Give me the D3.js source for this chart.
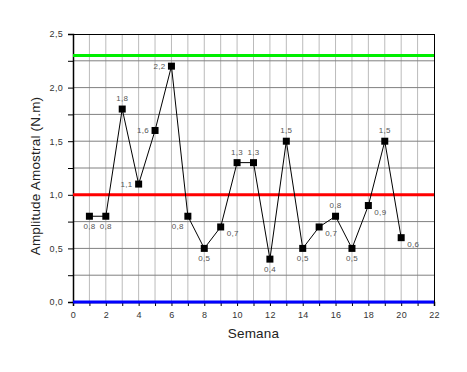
<!DOCTYPE html>
<html>
<head>
<meta charset="utf-8">
<script src="https://cdn.jsdelivr.net/npm/d3@7"></script>
<style>
  body { margin: 0; background: #fff; }
  svg { font-family: Arial, "Liberation Sans", sans-serif; }
  .tick text { fill: #333; font-size: 9px; letter-spacing: 0.3px; }
  .ptLabel { fill: #555; font-size: 8px; letter-spacing: 0.3px; }
  .axisTitle { fill: #222; font-size: 13.5px; letter-spacing: 0.2px; }
</style>
</head>
<body>
<div id="chart"></div>
<script>
// weeks and sample amplitude
const semanas = [1, 2, 3, 4, 5, 6, 7, 8, 9, 10, 11, 12, 13, 14, 15, 16, 17, 18, 19, 20];
const amplitude = [0.8, 0.8, 1.8, 1.1, 1.6, 2.2, 0.8, 0.5, 0.7, 1.3, 1.3, 0.4, 1.5, 0.5, 0.7, 0.8, 0.5, 0.9, 1.5, 0.6];
// where each value label sits relative to its point
const labelPos = ["below", "below", "above", "left", "left", "left", "belowleft", "below", "right", "above",
                  "above", "below", "above", "below", "right", "above", "below", "right", "above", "right"];
// control limits
const limites = [
  {valor: 2.3, cor: "#00ee00"},
  {valor: 1.0, cor: "#ff0000"},
  {valor: 0.0, cor: "#0000ff"}
];
const xTicks = [0, 2, 4, 6, 8, 10, 12, 14, 16, 18, 20, 22];
const yTicks = [0, 0.5, 1.0, 1.5, 2.0, 2.5];

const width = 467, height = 372;
const margin = {top: 34, right: 33, bottom: 70, left: 73};
const w = width - margin.left - margin.right;
const h = height - margin.top - margin.bottom;

const svg = d3.select("#chart").append("svg")
  .attr("width", width)
  .attr("height", height);

const g = svg.append("g").attr("transform", `translate(${margin.left},${margin.top})`);

const x = d3.scaleLinear().domain([0, 22]).range([0, w]);
const y = d3.scaleLinear().domain([0, 2.5]).range([h, 0]);

const fmt = d => d3.format(".1f")(d).replace(".", ",");

//grid
g.append("g").selectAll("line")
  .data(d3.range(1, 22))
  .join("line")
  .attr("x1", d => x(d)).attr("x2", d => x(d))
  .attr("y1", 0).attr("y2", h)
  .attr("stroke", "#bbb").attr("stroke-width", 1);

g.append("g").selectAll("line")
  .data(d3.range(0.25, 2.5, 0.25))
  .join("line")
  .attr("x1", 0).attr("x2", w)
  .attr("y1", d => y(d)).attr("y2", d => y(d))
  .attr("stroke", "#808080").attr("stroke-width", 1);

//frame (top/right)
g.append("line").attr("x1", 0).attr("x2", w).attr("y1", 0.5).attr("y2", 0.5).attr("stroke", "#000");
g.append("line").attr("x1", w + 0.5).attr("x2", w + 0.5).attr("y1", 0).attr("y2", h).attr("stroke", "#000");

//axes
g.append("g").attr("transform", `translate(0,${h})`)
  .call(d3.axisBottom(x).tickValues(xTicks).tickFormat(d3.format("d")).tickSize(4).tickPadding(6));
g.append("g").attr("transform", `translate(0,${h})`)
  .call(d3.axisBottom(x).tickValues(d3.range(1, 22, 2)).tickFormat("").tickSize(4))
  .select(".domain").remove();

g.append("g")
  .call(d3.axisLeft(y).tickValues(yTicks).tickFormat(fmt).tickSize(5).tickPadding(5));
g.append("g")
  .call(d3.axisLeft(y).tickValues(d3.range(0.25, 2.5, 0.5)).tickFormat("").tickSize(5))
  .select(".domain").remove();

g.selectAll(".domain").attr("stroke", "#000").attr("stroke-width", 1.5);

//limit lines
g.append("g").selectAll("line")
  .data(limites)
  .join("line")
  .attr("x1", 0).attr("x2", w)
  .attr("y1", d => y(d.valor)).attr("y2", d => y(d.valor))
  .attr("stroke", d => d.cor).attr("stroke-width", 3);

//series
const pts = semanas.map((s, i) => ({s: s, v: amplitude[i], pos: labelPos[i]}));

g.append("path")
  .datum(pts)
  .attr("fill", "none")
  .attr("stroke", "#000")
  .attr("stroke-width", 1)
  .attr("d", d3.line().x(d => x(d.s)).y(d => y(d.v)));

g.append("g").selectAll("rect")
  .data(pts)
  .join("rect")
  .attr("x", d => x(d.s) - 3.5)
  .attr("y", d => y(d.v) - 3.5)
  .attr("width", 7).attr("height", 7)
  .attr("fill", "#000");

const off = {
  above: [0, -8, "middle"],
  below: [0, 13, "middle"],
  left: [-6, 3, "end"],
  right: [6, 9, "start"],
  belowleft: [-4, 13, "end"]
};

g.append("g").selectAll("text")
  .data(pts)
  .join("text")
  .attr("class", "ptLabel")
  .attr("x", d => x(d.s) + off[d.pos][0])
  .attr("y", d => y(d.v) + off[d.pos][1])
  .attr("text-anchor", d => off[d.pos][2])
  .text(d => fmt(d.v));

//titles
svg.append("text")
  .attr("class", "axisTitle")
  .attr("x", margin.left + x(11))
  .attr("y", 338)
  .attr("text-anchor", "middle")
  .text("Semana");

svg.append("text")
  .attr("class", "axisTitle")
  .attr("transform", `translate(40,176) rotate(-90)`)
  .attr("text-anchor", "middle")
  .text("Amplitude Amostral (N.m)");
</script>
</body>
</html>
